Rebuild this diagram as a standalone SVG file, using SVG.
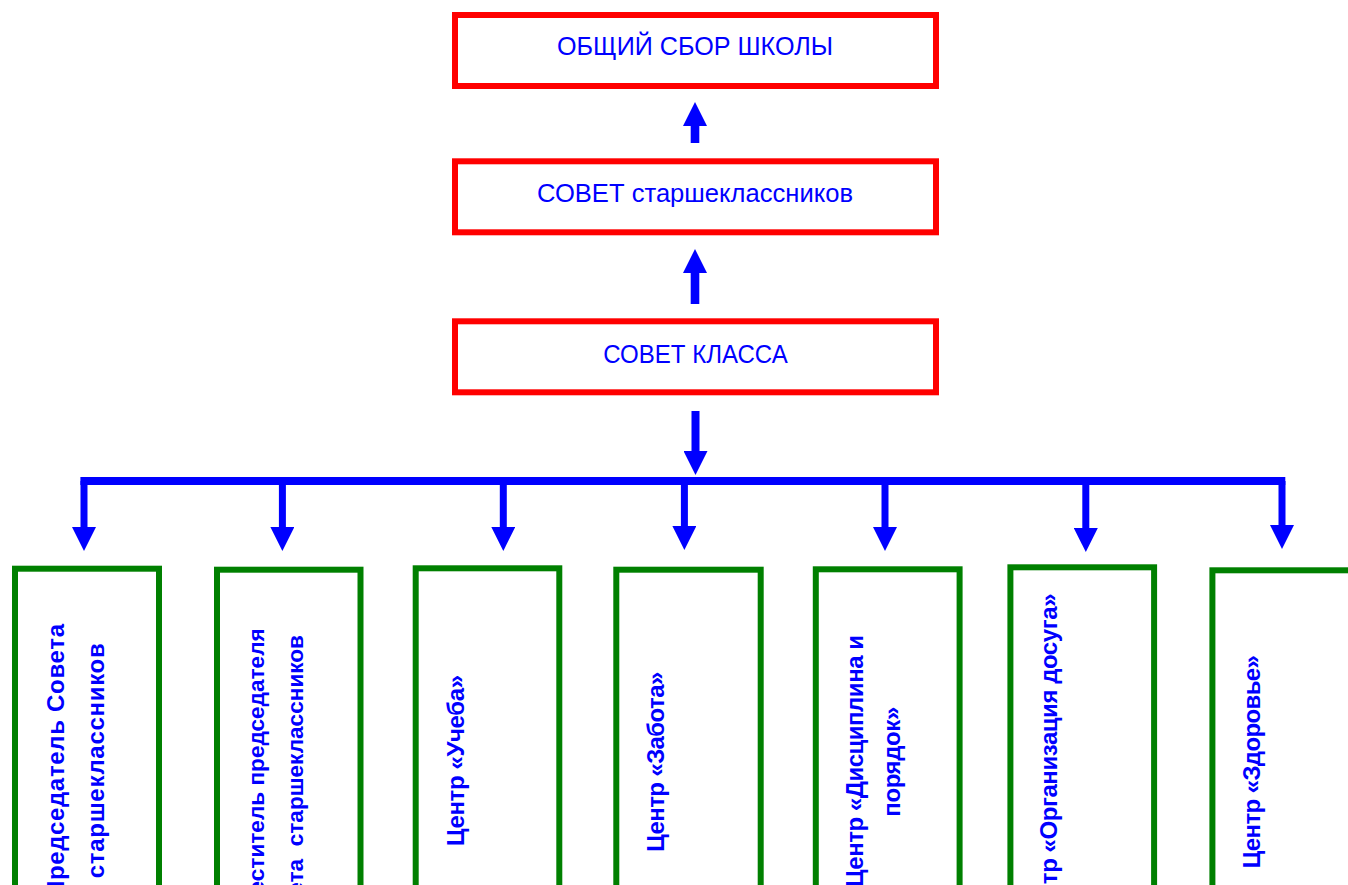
<svg xmlns="http://www.w3.org/2000/svg" width="1348" height="885" viewBox="0 0 1348 885">
  <style>
    .top rect { fill: #FFFFFF; stroke: #FF0000; stroke-width: 6; }
    .top text { font-family: "Liberation Sans", Arial, sans-serif; font-size: 25.5px; fill: #0000FF; text-anchor: middle; }
    .bot rect { fill: #FFFFFF; stroke: #008000; stroke-width: 6; }
    .bot text { font-family: "Liberation Sans", Arial, sans-serif; font-size: 24px; font-weight: bold; fill: #0000FF; white-space: pre; }
    .bot text.sm { font-size: 22.6px; }
    .conn line { stroke: #0000FF; fill: none; }
  </style>
  <defs>
    <marker id="ah" markerUnits="userSpaceOnUse" markerWidth="24" markerHeight="24" viewBox="0 0 24 24" refX="0" refY="12" orient="auto">
      <path d="M0,0 L24,12 L0,24 z" fill="#0000FF"/>
    </marker>
  </defs>
  <rect width="1348" height="885" fill="#FFFFFF"/>

  <g id="node-obshchiy-sbor" class="top">
    <rect x="455" y="15" width="481" height="71"/>
    <text x="695" y="55" textLength="276" lengthAdjust="spacingAndGlyphs">ОБЩИЙ СБОР ШКОЛЫ</text>
  </g>
  <g id="node-sovet-starsheklassnikov" class="top">
    <rect x="455" y="161.3" width="481" height="71"/>
    <text x="695" y="201.7" textLength="316" lengthAdjust="spacingAndGlyphs">СОВЕТ старшеклассников</text>
  </g>
  <g id="node-sovet-klassa" class="top">
    <rect x="455" y="321.3" width="481" height="71"/>
    <text x="695.5" y="362.7" textLength="184.4" lengthAdjust="spacingAndGlyphs">СОВЕТ КЛАССА</text>
  </g>

  <g id="connectors" class="conn">
    <line x1="695" y1="143" x2="695" y2="126" stroke-width="8.6" marker-end="url(#ah)"/>
    <line x1="695" y1="304" x2="695" y2="273" stroke-width="8.6" marker-end="url(#ah)"/>
    <line x1="695.5" y1="411" x2="695.5" y2="451" stroke-width="8" marker-end="url(#ah)"/>
    <line x1="80.4" y1="481" x2="1285.3" y2="481" stroke-width="8"/>
    <line x1="84" y1="481" x2="84" y2="527" stroke-width="7" marker-end="url(#ah)"/>
    <line x1="282.4" y1="481" x2="282.4" y2="527" stroke-width="7" marker-end="url(#ah)"/>
    <line x1="503.3" y1="481" x2="503.3" y2="527" stroke-width="7" marker-end="url(#ah)"/>
    <line x1="684.4" y1="481" x2="684.4" y2="526" stroke-width="7" marker-end="url(#ah)"/>
    <line x1="885" y1="481" x2="885" y2="527" stroke-width="7" marker-end="url(#ah)"/>
    <line x1="1085.8" y1="481" x2="1085.8" y2="528" stroke-width="7" marker-end="url(#ah)"/>
    <line x1="1282" y1="481" x2="1282" y2="525" stroke-width="7" marker-end="url(#ah)"/>
  </g>

  <g id="node-predsedatel" class="bot">
    <rect x="15" y="568.7" width="144" height="340"/>
    <text transform="translate(63.8,761) rotate(-90)" text-anchor="middle" textLength="274">Председатель Совета</text>
    <text transform="translate(104,760.8) rotate(-90)" text-anchor="middle" textLength="235">старшеклассников</text>
  </g>
  <g id="node-zamestitel" class="bot">
    <rect x="217" y="569.7" width="143.5" height="340"/>
    <text class="sm" transform="translate(264,628.3) rotate(-90)" text-anchor="end">Заместитель председателя</text>
    <text class="sm" transform="translate(302.5,635) rotate(-90)" text-anchor="end">Совета  старшеклассников</text>
  </g>
  <g id="node-ucheba" class="bot">
    <rect x="415.7" y="568.3" width="143.6" height="340"/>
    <text transform="translate(463.8,760.5) rotate(-90)" text-anchor="middle" textLength="171">Центр «Учеба»</text>
  </g>
  <g id="node-zabota" class="bot">
    <rect x="616.3" y="569.7" width="144.4" height="340"/>
    <text transform="translate(663.8,761.7) rotate(-90)" text-anchor="middle" textLength="180">Центр «Забота»</text>
  </g>
  <g id="node-disciplina" class="bot">
    <rect x="815.8" y="569.3" width="143.8" height="340"/>
    <text transform="translate(863,761) rotate(-90)" text-anchor="middle" textLength="252">Центр «Дисциплина и</text>
    <text transform="translate(899.6,761.7) rotate(-90)" text-anchor="middle" textLength="110">порядок»</text>
  </g>
  <g id="node-dosug" class="bot">
    <rect x="1010.4" y="567.3" width="143.7" height="340"/>
    <text transform="translate(1057,761) rotate(-90)" text-anchor="middle" textLength="335">Центр «Организация досуга»</text>
  </g>
  <g id="node-zdorovie" class="bot">
    <rect x="1212.4" y="570.3" width="144" height="340"/>
    <text transform="translate(1259.8,761.7) rotate(-90)" text-anchor="middle" textLength="213.3">Центр «Здоровье»</text>
  </g>
</svg>
